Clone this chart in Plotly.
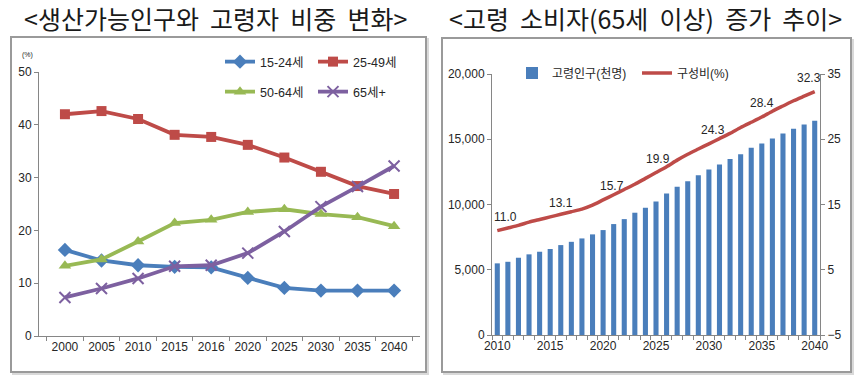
import plotly.graph_objects as go

# ---------------- data: left panel ----------------
years_left = ["2000", "2005", "2010", "2015", "2016", "2020", "2025", "2030", "2035", "2040"]
age_15_24 = [16.3, 14.3, 13.4, 13.1, 13.0, 11.0, 9.1, 8.6, 8.6, 8.6]
age_25_49 = [42.0, 42.6, 41.1, 38.1, 37.7, 36.2, 33.8, 31.1, 28.4, 26.9]
age_50_64 = [13.3, 14.5, 17.9, 21.4, 22.0, 23.5, 24.0, 23.1, 22.5, 20.8]
age_65_plus = [7.3, 9.0, 10.9, 13.2, 13.4, 15.7, 19.8, 24.5, 28.3, 32.2]
left_y_ticks = [0, 10, 20, 30, 40, 50]

# ---------------- data: right panel ----------------
years_right = list(range(2010, 2041))
elderly_pop = [5490, 5610, 5920, 6180, 6380, 6590, 6890, 7140, 7400, 7710,
               8040, 8500, 8880, 9370, 9750, 10230, 10850, 11360, 11790, 12250,
               12690, 13070, 13480, 13860, 14340, 14680, 15060, 15440, 15800, 16130,
               16410]
elderly_share = [11.0, 11.4, 11.8, 12.3, 12.7, 13.1, 13.5, 13.9, 14.3, 14.9,
                 15.7, 16.5, 17.3, 18.1, 19.0, 19.9, 20.8, 21.8, 22.7, 23.5,
                 24.3, 25.1, 25.9, 26.8, 27.6, 28.4, 29.3, 30.1, 30.9, 31.6,
                 32.3]
label_years = [2010, 2015, 2020, 2025, 2030, 2035, 2040]
right_x_ticks = [2010, 2015, 2020, 2025, 2030, 2035, 2040]
pop_ticks = [0, 5000, 10000, 15000, 20000]
share_ticks = [-5, 5, 15, 25, 35]

title_left = "&lt;생산가능인구와\u00a0 고령자\u00a0 비중\u00a0 변화&gt;"
title_right = "&lt;고령\u00a0 소비자(65세\u00a0 이상)\u00a0 증가\u00a0 추이&gt;"

# ---------------- styling ----------------
W, H = 860, 380
KR = "Noto Sans CJK KR, sans-serif"
REG = "Liberation Sans, Arial, Noto Sans CJK KR, sans-serif"
AX = "#868686"
TXT = "#262626"
BLUE, RED, GREEN, PURPLE = "#4A7EBB", "#BE4B48", "#98B954", "#7D60A0"
label_xshift = [8, 11, 9, 2, 4, 0, -6]


def px(x):
    return x / W


def py(y):
    return 1 - y / H


fig = go.Figure()

line_w = 3.8
fig.add_trace(go.Scatter(x=years_left, y=age_15_24, name="15-24세", mode="lines+markers",
                         line=dict(color=BLUE, width=line_w),
                         marker=dict(symbol="diamond", size=11, color=BLUE),
                         xaxis="x", yaxis="y", legend="legend"))
fig.add_trace(go.Scatter(x=years_left, y=age_25_49, name="25-49세", mode="lines+markers",
                         line=dict(color=RED, width=line_w),
                         marker=dict(symbol="square", size=10, color=RED),
                         xaxis="x", yaxis="y", legend="legend"))
fig.add_trace(go.Scatter(x=years_left, y=age_50_64, name="50-64세", mode="lines+markers",
                         line=dict(color=GREEN, width=line_w),
                         marker=dict(symbol="triangle-up", size=11, color=GREEN),
                         xaxis="x", yaxis="y", legend="legend2"))
fig.add_trace(go.Scatter(x=years_left, y=age_65_plus, name="65세+", mode="lines+markers",
                         line=dict(color=PURPLE, width=line_w),
                         marker=dict(symbol="x-thin", size=11, color=PURPLE,
                                     line=dict(color=PURPLE, width=2)),
                         xaxis="x", yaxis="y", legend="legend2"))

fig.add_trace(go.Bar(x=years_right, y=elderly_pop, name="고령인구(천명)",
                     marker=dict(color=BLUE, line=dict(width=0)),
                     xaxis="x2", yaxis="y2", legend="legend3"))
fig.add_trace(go.Scatter(x=years_right, y=elderly_share, name="구성비(%)", mode="lines",
                         line=dict(color=RED, width=3.5, shape="spline", smoothing=0.6),
                         xaxis="x2", yaxis="y3", legend="legend3"))

annotations = []
for i, yr in enumerate(label_years):
    v = elderly_share[years_right.index(yr)]
    annotations.append(dict(x=yr, y=v, xref="x2", yref="y3", text=f"{v:.1f}",
                            showarrow=False, yshift=14, xshift=label_xshift[i],
                            font=dict(family=REG, size=12, color=TXT)))

annotations += [
    dict(x=px(215), y=py(18), xref="paper", yref="paper", text=title_left, showarrow=False,
         xanchor="center", yanchor="middle", font=dict(family=KR, size=25, color="#1a1a1a")),
    dict(x=px(645), y=py(18), xref="paper", yref="paper", text=title_right, showarrow=False,
         xanchor="center", yanchor="middle", font=dict(family=KR, size=25, color="#1a1a1a")),
    dict(x=px(27), y=py(55), xref="paper", yref="paper", text="(%)", showarrow=False,
         xanchor="center", yanchor="middle", font=dict(family=REG, size=7, color=TXT)),
]

shapes = []
for (x0, y0, x1, y1) in [(11, 37, 426, 372), (442, 38, 851, 372)]:
    shapes.append(dict(type="rect", xref="paper", yref="paper",
                       x0=px(x0 + 2), y0=py(y1 + 2), x1=px(x1 + 2), y1=py(y0 + 2),
                       line=dict(color="#d9d9d9", width=2), layer="below"))
    shapes.append(dict(type="rect", xref="paper", yref="paper",
                       x0=px(x0), y0=py(y1), x1=px(x1), y1=py(y0),
                       line=dict(color="#9a9a9a", width=2), fillcolor="white", layer="below"))

axis_common = dict(showgrid=False, zeroline=False, showline=True, linecolor=AX, linewidth=1,
                   ticks="outside", tickcolor=AX, ticklen=4, automargin=False)

legend_common = dict(orientation="h", xanchor="left", yanchor="middle",
                     entrywidthmode="pixels", bgcolor="rgba(0,0,0,0)",
                     tracegroupgap=0, itemclick=False)

fig.update_layout(
    width=W, height=H, margin=dict(l=0, r=0, t=0, b=0, autoexpand=False),
    paper_bgcolor="white", plot_bgcolor="rgba(0,0,0,0)",
    showlegend=True, bargap=0.52,
    xaxis=dict(**axis_common, type="category", tickson="boundaries", tickangle=0,
               domain=[px(39), px(420)], anchor="y",
               tickfont=dict(family=REG, size=12, color=TXT)),
    yaxis=dict(**axis_common, range=[0, 50], tickvals=left_y_ticks,
               domain=[py(336), py(72)], anchor="x",
               tickfont=dict(family=REG, size=12, color=TXT)),
    xaxis2=dict(showgrid=False, zeroline=False, showline=True, linecolor=AX, linewidth=1,
                automargin=False, tickangle=0,
                range=[2009.5, 2040.5], tickvals=right_x_ticks, ticks="", ticklen=0,
                minor=dict(tickmode="linear", tick0=2009.5, dtick=1, ticks="outside",
                           ticklen=4, tickcolor=AX, showgrid=False),
                domain=[px(492), px(820)], anchor="y2",
                tickfont=dict(family=REG, size=12, color=TXT)),
    yaxis2=dict(**axis_common, range=[0, 20000], tickvals=pop_ticks, tickformat=",",
                domain=[py(335), py(74)], anchor="x2",
                tickfont=dict(family=REG, size=12, color=TXT)),
    yaxis3=dict(**axis_common, range=[-5, 35], tickvals=share_ticks, overlaying="y2",
                side="right", anchor="x2",
                tickfont=dict(family=REG, size=12, color=TXT)),
    legend=dict(**legend_common, x=px(220), y=py(62), entrywidth=48,
                font=dict(family=REG, size=12.5, color=TXT)),
    legend2=dict(**legend_common, x=px(220), y=py(92), entrywidth=48,
                 font=dict(family=REG, size=12.5, color=TXT)),
    legend3=dict(**legend_common, x=px(512), y=py(73), entrywidth=80,
                 font=dict(family=REG, size=12, color=TXT)),
    annotations=annotations, shapes=shapes,
)

fig.write_html("out.html",
               config={"displayModeBar": False},
               post_script="document.body.style.margin='0';document.body.style.overflow='hidden';")
